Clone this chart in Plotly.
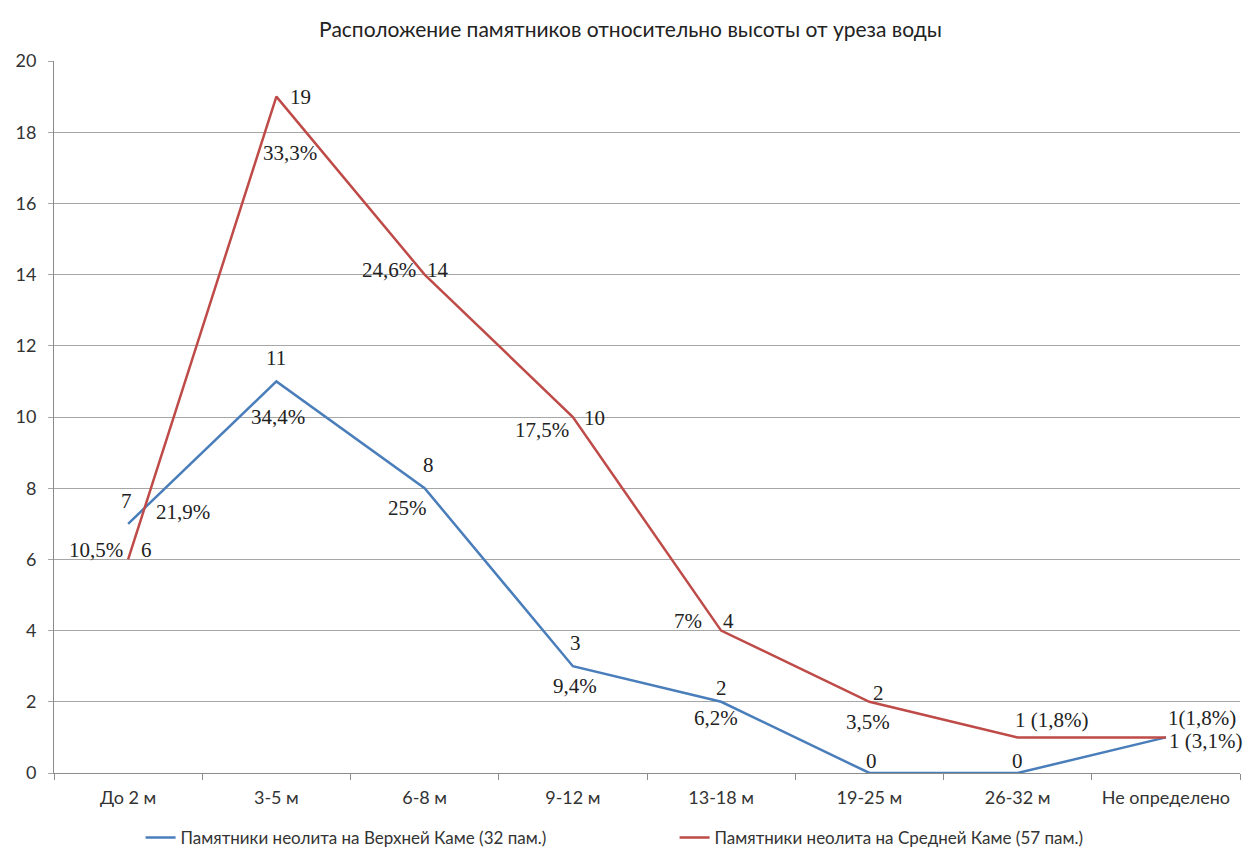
import plotly.graph_objects as go

categories = ["До 2 м", "3-5 м", "6-8 м", "9-12 м", "13-18 м", "19-25 м", "26-32 м", "Не определено"]
upper_kama = [7, 11, 8, 3, 2, 0, 0, 1]
upper_pct = ["21,9%", "34,4%", "25%", "9,4%", "6,2%", "", "", "3,1%"]
middle_kama = [6, 19, 14, 10, 4, 2, 1, 1]
middle_pct = ["10,5%", "33,3%", "24,6%", "17,5%", "7%", "3,5%", "1,8%", "1,8%"]
series_names = ["Памятники неолита на Верхней Каме (32 пам.)",
                "Памятники неолита на Средней Каме (57 пам.)"]
title = "Расположение памятников относительно высоты от уреза воды"

BLUE = "#4A7EBB"
RED = "#BE4B48"
SANS = "Lato, Open Sans, sans-serif"
LABEL_FONT = dict(family="Liberation Serif, Times New Roman, serif", size=21, color="#222222")

fig = go.Figure()
fig.add_trace(go.Scatter(x=categories, y=upper_kama, mode="lines", name=series_names[0],
                         line=dict(color=BLUE, width=2.5)))
fig.add_trace(go.Scatter(x=categories, y=middle_kama, mode="lines", name=series_names[1],
                         line=dict(color=RED, width=2.5)))

# label placement offsets (pixels): value label and percent label
upper_val_off = [(-2, 23), (0, 23), (4, 23), (3, 23), (0, 14), (2, 12), (0, 12), None]
upper_pct_off = [(55, 12), (2, -36), (-17, -20), (2, -20), (-5, -16), None, None, None]
middle_val_off = [(18, 9), (24, 0), (13, 5), (22, -1), (7, 10), (9, 9), None, None]
middle_pct_off = [(-32, 9), (14, -56), (-36, 5), (-31, -13), (-33, 10), (-1, -20), None, None]

ann = []
for i, c in enumerate(categories):
    v = upper_kama[i]
    if upper_val_off[i] is not None:
        dx, dy = upper_val_off[i]
        ann.append(dict(x=c, y=v, text=str(v), xshift=dx, yshift=dy))
    if upper_pct_off[i] is not None and upper_pct[i]:
        dx, dy = upper_pct_off[i]
        ann.append(dict(x=c, y=v, text=upper_pct[i], xshift=dx, yshift=dy))
    v = middle_kama[i]
    if middle_val_off[i] is not None:
        dx, dy = middle_val_off[i]
        ann.append(dict(x=c, y=v, text=str(v), xshift=dx, yshift=dy))
    if middle_pct_off[i] is not None:
        dx, dy = middle_pct_off[i]
        ann.append(dict(x=c, y=v, text=middle_pct[i], xshift=dx, yshift=dy))

# combined labels for the tail points
ann.append(dict(x=categories[6], y=middle_kama[6], text=f"{middle_kama[6]} ({middle_pct[6]})",
                xshift=34, yshift=17))
ann.append(dict(x=categories[7], y=middle_kama[7], text=f"{middle_kama[7]}({middle_pct[7]})",
                xshift=36, yshift=19))
ann.append(dict(x=categories[7], y=upper_kama[7], text=f"{upper_kama[7]} ({upper_pct[7]})",
                xshift=40, yshift=-4))

for a in ann:
    a.update(xref="x", yref="y", showarrow=False, font=LABEL_FONT)

fig.update_layout(
    width=1245, height=846,
    paper_bgcolor="white", plot_bgcolor="white",
    margin=dict(l=46, r=13, t=53, b=81),
    title=dict(text=title, x=0.5, xanchor="center", y=0.974, yanchor="middle",
               font=dict(family=SANS, size=21, color="#222222")),
    font=dict(family=SANS, size=18, color="#333333"),
    showlegend=True,
    legend=dict(orientation="h", x=0.1065, xanchor="left", xref="container",
                y=0.019, yanchor="middle", yref="container",
                font=dict(family=SANS, size=17, color="#333333"), itemwidth=30,
                entrywidth=489, entrywidthmode="pixels", tracegroupgap=0),
    annotations=ann,
)
fig.update_xaxes(automargin=False, showline=True, linecolor="#8C8C8C", linewidth=1,
                 ticks="outside", tickson="boundaries", ticklen=6, tickcolor="#8C8C8C",
                 ticklabelstandoff=8, showgrid=False, range=[-0.5, 7.5])
fig.update_yaxes(automargin=False, range=[0, 20], dtick=2, showline=True,
                 linecolor="#8C8C8C", linewidth=1,
                 ticks="outside", ticklen=5, tickcolor="#A6A6A6", ticklabelstandoff=8,
                 showgrid=True, gridcolor="#A6A6A6", gridwidth=1, zeroline=False)

fig.write_html("out.html")
